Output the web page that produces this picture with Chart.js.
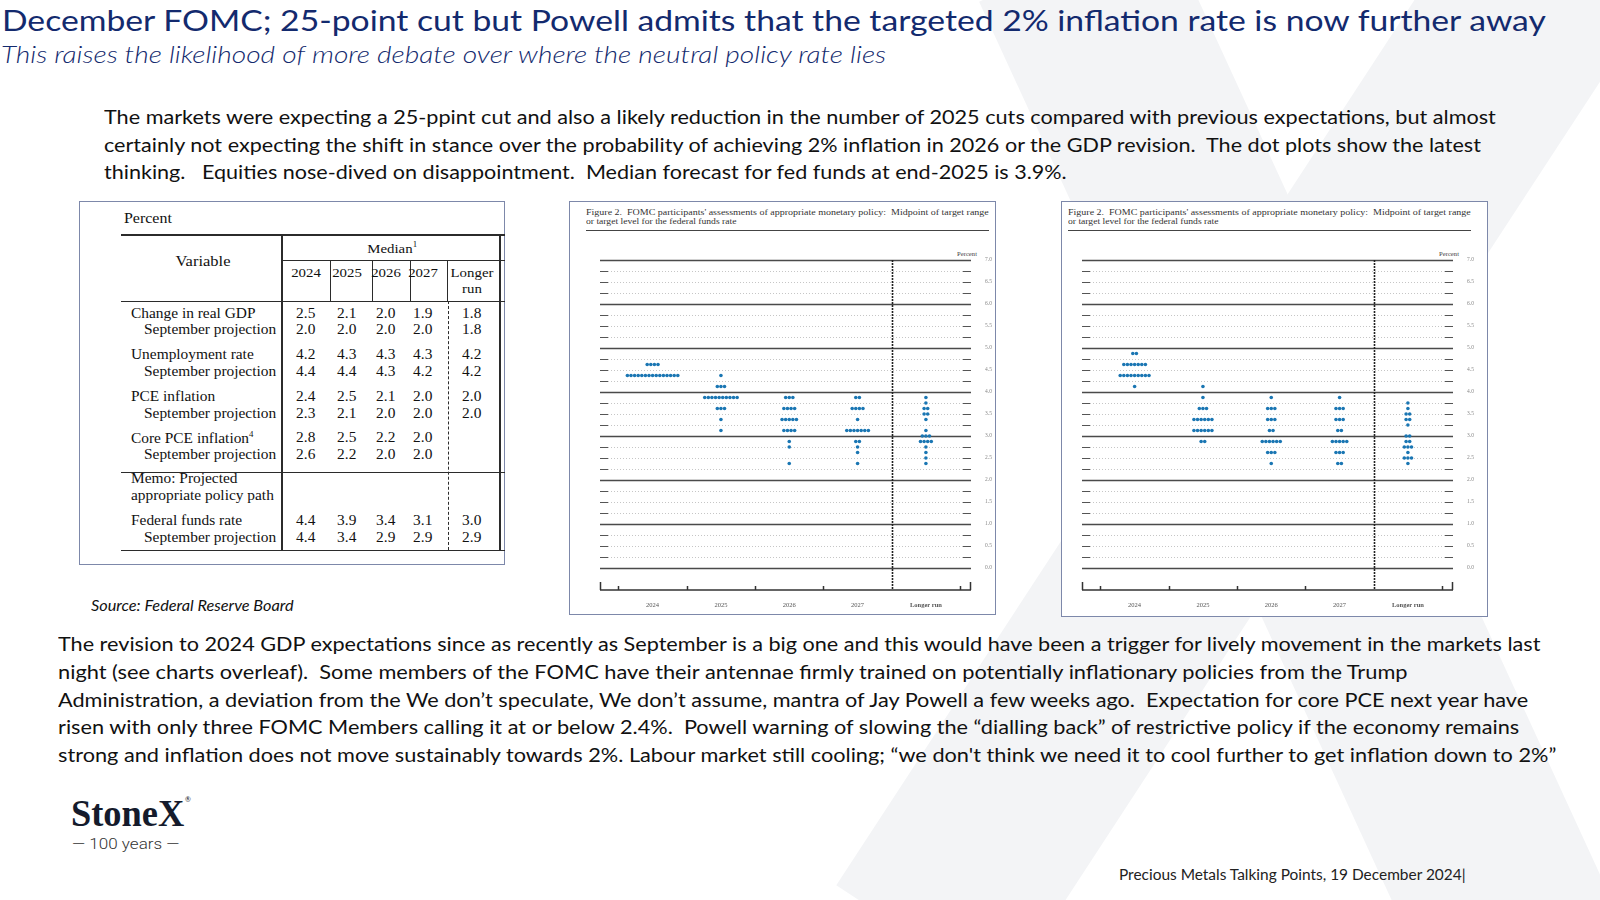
<!DOCTYPE html>
<html>
<head>
<meta charset="utf-8">
<script src="https://cdn.jsdelivr.net/npm/chart.js@4.4.1/dist/chart.umd.min.js"></script>
<style>
html, body { margin: 0; padding: 0; background: #fff; }
#slide { position: relative; width: 1600px; height: 900px; overflow: hidden; background: #fff; font-family: Lato, 'Open Sans', sans-serif; }
.t { position: absolute; white-space: nowrap; line-height: 1; transform-origin: 0 50%; }
.box { position: absolute; border: 1.5px solid #7d88aa; box-sizing: border-box; background: #fff; }
.ln { position: absolute; background: #2b2b2b; }
canvas { position: absolute; }
#wm { position: absolute; left: 0; top: 0; }
</style>
</head>
<body>
<div id="slide">
  <svg id="wm" width="1600" height="900">
    <line x1="1070" y1="-40" x2="1520" y2="940" stroke="#f3f4f6" stroke-width="200"/>
    <line x1="1560" y1="-40" x2="920" y2="940" stroke="#f3f4f6" stroke-width="200"/>
  </svg>
</div>

<script>
// dot plot columns
const years = ['2024', '2025', '2026', '2027', 'Longer run'];

// December 2024 projections: [midpoint, participants]
const dec2024 = [[4.625, 4], [4.375, 15]];
const dec2025 = [[4.375, 1], [4.125, 3], [3.875, 10], [3.625, 3], [3.375, 1], [3.125, 1]];
const dec2026 = [[3.875, 3], [3.625, 4], [3.375, 5], [3.125, 4], [2.875, 1], [2.75, 1], [2.375, 1]];
const dec2027 = [[3.875, 2], [3.625, 4], [3.375, 1], [3.125, 7], [2.875, 2], [2.75, 1], [2.625, 1], [2.375, 1]];
const decLonger = [[3.875, 1], [3.75, 1], [3.625, 2], [3.5, 2], [3.375, 1], [3.125, 1], [3.0, 3], [2.875, 4], [2.75, 1], [2.625, 1], [2.5, 1], [2.375, 1]];

// September 2024 projections
const sep2024 = [[4.875, 2], [4.625, 7], [4.375, 9], [4.125, 1]];
const sep2025 = [[4.125, 1], [3.875, 1], [3.625, 3], [3.375, 6], [3.125, 6], [2.875, 2]];
const sep2026 = [[3.875, 1], [3.625, 3], [3.375, 3], [3.125, 2], [2.875, 6], [2.625, 3], [2.375, 1]];
const sep2027 = [[3.875, 1], [3.625, 3], [3.375, 3], [3.125, 2], [2.875, 5], [2.625, 3], [2.375, 2]];
const sepLonger = [[3.75, 1], [3.625, 1], [3.5, 2], [3.375, 2], [3.25, 1], [3.0, 2], [2.875, 2], [2.75, 3], [2.625, 1], [2.5, 3], [2.375, 1]];

// summary table (medians)
const gdp = [2.5, 2.1, 2.0, 1.9, 1.8];
const gdpSep = [2.0, 2.0, 2.0, 2.0, 1.8];
const unemp = [4.2, 4.3, 4.3, 4.3, 4.2];
const unempSep = [4.4, 4.4, 4.3, 4.2, 4.2];
const pce = [2.4, 2.5, 2.1, 2.0, 2.0];
const pceSep = [2.3, 2.1, 2.0, 2.0, 2.0];
const corePce = [2.8, 2.5, 2.2, 2.0, null];
const corePceSep = [2.6, 2.2, 2.0, 2.0, null];
const ffr = [4.4, 3.9, 3.4, 3.1, 3.0];
const ffrSep = [4.4, 3.4, 2.9, 2.9, 2.9];

const slide = document.getElementById('slide');
const navy = '#132a6e';

function txt(s, x, y, o) {
  o = o || {};
  const d = document.createElement('div');
  d.className = 't';
  d.innerHTML = s;
  const fs = o.size || 16;
  d.style.fontSize = fs + 'px';
  d.style.left = x + 'px';
  d.style.top = (y - fs * 0.55) + 'px';
  if (o.font) d.style.fontFamily = o.font;
  if (o.color) d.style.color = o.color;
  if (o.italic) d.style.fontStyle = 'italic';
  if (o.weight) d.style.fontWeight = o.weight;
  slide.appendChild(d);
  let sx = o.sx || 1;
  if (o.w) sx = o.w / d.scrollWidth;
  let tx = 0;
  if (o.align === 'center') tx = -d.scrollWidth * sx / 2;
  if (o.align === 'right') tx = -d.scrollWidth * sx;
  d.style.transform = 'translateX(' + tx + 'px) scaleX(' + sx + ')';
  return d;
}

function line(x, y, w, h, color) {
  const d = document.createElement('div');
  d.className = 'ln';
  d.style.left = x + 'px'; d.style.top = y + 'px';
  d.style.width = w + 'px'; d.style.height = h + 'px';
  if (color) d.style.background = color;
  slide.appendChild(d);
  return d;
}

function box(x, y, w, h) {
  const d = document.createElement('div');
  d.className = 'box';
  d.style.left = x + 'px'; d.style.top = y + 'px';
  d.style.width = w + 'px'; d.style.height = h + 'px';
  slide.appendChild(d);
}

// headings
txt('December FOMC; 25-point cut but Powell admits that the targeted 2% inflation rate is now further away', 2, 21, { size: 29, color: navy, w: 1544 });
txt('This raises the likelihood of more debate over where the neutral policy rate lies', 1, 56, { size: 23, color: navy, italic: true, weight: 300, w: 885 });

const body1 = [
  ['The markets were expecting a 25-ppint cut and also a likely reduction in the number of 2025 cuts compared with previous expectations, but almost', 1392],
  ['certainly not expecting the shift in stance over the probability of achieving 2% inflation in 2026 or the GDP revision.&nbsp; The dot plots show the latest', 1377],
  ['thinking.&nbsp;&nbsp; Equities nose-dived on disappointment.&nbsp; Median forecast for fed funds at end-2025 is 3.9%.', 963]
];
body1.forEach((l, i) => txt(l[0], 104, 118 + i * 27.6, { size: 19.5, color: '#111', w: l[1] }));

const body2 = [
  ['The revision to 2024 GDP expectations since as recently as September is a big one and this would have been a trigger for lively movement in the markets last', 1483],
  ['night (see charts overleaf).&nbsp; Some members of the FOMC have their antennae firmly trained on potentially inflationary policies from the Trump', 1350],
  ['Administration, a deviation from the We don’t speculate, We don’t assume, mantra of Jay Powell a few weeks ago.&nbsp; Expectation for core PCE next year have', 1470],
  ['risen with only three FOMC Members calling it at or below 2.4%.&nbsp; Powell warning of slowing the “dialling back” of restrictive policy if the economy remains', 1461],
  ['strong and inflation does not move sustainably towards 2%. Labour market still cooling; “we don\'t think we need it to cool further to get inflation down to 2%”', 1498]
];
body2.forEach((l, i) => txt(l[0], 58, 645 + i * 27.7, { size: 19.5, color: '#111', w: l[1] }));

txt('Source: Federal Reserve Board', 91, 606, { size: 15, italic: true, color: '#111', w: 203 });
txt('Precious Metals Talking Points, 19 December 2024|', 1119, 876, { size: 14.5, color: '#222', w: 347 });

// logo
txt('StoneX', 71, 815, { size: 38, font: "'Liberation Serif', serif", weight: 'bold', color: '#151b2c', w: 113 });
txt('®', 185, 800, { size: 7, color: '#151b2c' });
txt('— 100 years —', 72, 845, { size: 15, font: 'Roboto, sans-serif', weight: 300, color: '#333', w: 108 });

// ---- table ----
const serif = "'Liberation Serif', 'DejaVu Serif', serif";
const tc = '#111';
const tsx = 1.1;
box(79, 201, 426, 364);
txt('Percent', 124, 219, { size: 14.5, font: serif, color: tc, sx: tsx });
line(121, 234, 384, 1.5);
line(281, 235, 1.5, 315);
line(499, 235, 1.5, 315);
line(282, 259.5, 223, 1.2);
[330, 372, 410, 447].forEach(x => line(x, 260, 1.2, 41));
line(121, 300.5, 384, 1.5);
line(121, 471.5, 384, 1.5);
line(121, 549.5, 384, 1.5);
const dash = line(447.5, 301, 0, 249, 'transparent');
dash.style.borderLeft = '1.6px dashed #2b2b2b';

txt('Variable', 203, 262, { size: 15, font: serif, color: tc, align: 'center', sx: tsx });
txt('Median<sup style="font-size:8px">1</sup>', 392, 248, { size: 13.5, font: serif, color: tc, align: 'center', sx: tsx });
const colX = [306, 347, 386, 423, 472];
years.slice(0, 4).forEach((yr, i) => txt(yr, colX[i], 273, { size: 13.5, font: serif, color: tc, align: 'center', sx: tsx }));
txt('Longer', colX[4], 273, { size: 13.5, font: serif, color: tc, align: 'center', sx: tsx });
txt('run', colX[4], 289, { size: 13.5, font: serif, color: tc, align: 'center', sx: tsx });

const tableRows = [
  ['Change in real GDP', gdp, 315, false],
  ['September projection', gdpSep, 331, true],
  ['Unemployment rate', unemp, 356, false],
  ['September projection', unempSep, 373, true],
  ['PCE inflation', pce, 398, false],
  ['September projection', pceSep, 415, true],
  ['Core PCE inflation<sup style="font-size:8px">4</sup>', corePce, 439, false],
  ['September projection', corePceSep, 456, true],
  ['Federal funds rate', ffr, 522, false],
  ['September projection', ffrSep, 539, true]
];
tableRows.forEach(r => {
  txt(r[0], r[3] ? 144 : 131, r[2], { size: 14, font: serif, color: tc, sx: tsx });
  r[1].forEach((v, i) => { if (v !== null) txt(v.toFixed(1), colX[i], r[2], { size: 14, font: serif, color: tc, align: 'center', sx: tsx }); });
});
txt('Memo: Projected', 131, 480, { size: 14, font: serif, color: tc, sx: tsx });
txt('appropriate policy path', 131, 497, { size: 14, font: serif, color: tc, sx: tsx });

// ---- dot plots ----
const dotStep = 0.0527;

function dotData(columns) {
  const pts = [];
  columns.forEach((col, i) => {
    col.forEach(([rate, n]) => {
      for (let k = 0; k < n; k++) pts.push({ x: i + (k - (n - 1) / 2) * dotStep, y: rate });
    });
  });
  return pts;
}

const gridPlugin = {
  id: 'fedGrid',
  beforeDatasetsDraw(chart) {
    const { ctx, chartArea: a, scales: { x, y } } = chart;
    ctx.save();
    for (let v = 0; v <= 7; v += 0.25) {
      const py = Math.round(y.getPixelForValue(v)) + 0.5;
      if (v % 1 === 0) {
        ctx.strokeStyle = '#4a4a4a'; ctx.lineWidth = 1.3; ctx.setLineDash([]);
        ctx.beginPath(); ctx.moveTo(a.left, py); ctx.lineTo(a.right, py); ctx.stroke();
      } else {
        ctx.strokeStyle = '#b8b8b8'; ctx.lineWidth = 0.8; ctx.setLineDash([1, 2]);
        ctx.beginPath(); ctx.moveTo(a.left + 8, py); ctx.lineTo(a.right - 8, py); ctx.stroke();
        ctx.strokeStyle = '#555'; ctx.lineWidth = 1.2; ctx.setLineDash([]);
        ctx.beginPath(); ctx.moveTo(a.left, py); ctx.lineTo(a.left + 8, py);
        ctx.moveTo(a.right - 8, py); ctx.lineTo(a.right, py); ctx.stroke();
      }
    }
    // separator before the longer run column
    const sx = Math.round(x.getPixelForValue(3.5)) + 0.5;
    ctx.strokeStyle = '#222'; ctx.lineWidth = 1.6; ctx.setLineDash([2, 1]);
    ctx.beginPath(); ctx.moveTo(sx, y.getPixelForValue(7)); ctx.lineTo(sx, a.bottom); ctx.stroke();
    // bottom axis
    ctx.setLineDash([]); ctx.strokeStyle = '#333'; ctx.lineWidth = 1.5;
    const by = a.bottom;
    ctx.beginPath(); ctx.moveTo(a.left, by); ctx.lineTo(a.right, by);
    ctx.moveTo(a.left + 0.5, by); ctx.lineTo(a.left + 0.5, by - 8);
    ctx.moveTo(a.right - 0.5, by); ctx.lineTo(a.right - 0.5, by - 8);
    [-0.5, 0.5, 1.5, 2.5, 4.5].forEach(v => {
      const px = Math.round(x.getPixelForValue(v)) + 0.5;
      ctx.moveTo(px, by); ctx.lineTo(px, by - 4);
    });
    ctx.stroke();
    ctx.restore();
  }
};

function dotChart(left, cols) {
  const c = document.createElement('canvas');
  c.width = 420; c.height = 370;
  c.style.left = left + 'px'; c.style.top = '250px';
  slide.appendChild(c);
  return new Chart(c, {
    type: 'scatter',
    data: {
      datasets: [{
        data: dotData(cols),
        backgroundColor: '#1a76b3',
        pointRadius: 1.8,
        pointHoverRadius: 1.8,
        borderWidth: 0
      }]
    },
    options: {
      responsive: false,
      animation: false,
      events: [],
      layout: { padding: { left: 20, right: 4, top: 10, bottom: 4 } },
      plugins: { legend: { display: false }, tooltip: { enabled: false } },
      scales: {
        x: {
          type: 'linear', min: -0.77, max: 4.66,
          grid: { display: false, drawTicks: false },
          border: { display: false },
          afterBuildTicks: s => { s.ticks = years.map((_, i) => ({ value: i })); },
          afterFit: s => { s.height = 26; s.paddingLeft = 0; s.paddingRight = 0; },
          ticks: {
            autoSkip: false, maxRotation: 0, padding: 11, color: '#555',
            font: ctx => ({ family: serif, size: 6.5, weight: ctx.index === 4 ? 'bold' : 'normal' }),
            callback: v => years[v]
          }
        },
        y: {
          position: 'right', min: -0.5, max: 7,
          grid: { display: false, drawTicks: false },
          border: { display: false },
          afterFit: s => { s.width = 25; s.paddingTop = 0; s.paddingBottom = 0; },
          ticks: {
            stepSize: 0.5, padding: 14, color: '#888',
            font: { family: serif, size: 5.5 },
            callback: v => v < 0 ? '' : v.toFixed(1)
          }
        }
      }
    },
    plugins: [gridPlugin]
  });
}

function figure(bx, by, bw, bh, capX, capW, plotLeft, cols) {
  box(bx, by, bw, bh);
  txt('Figure 2.&nbsp; FOMC participants\' assessments of appropriate monetary policy:&nbsp; Midpoint of target range', capX, 213, { size: 8, font: serif, color: '#333', w: capW });
  txt('or target level for the federal funds rate', capX, 222.5, { size: 8, font: serif, color: '#333', w: 150 });
  line(capX, 229.5, capW, 1.2, '#444');
  txt('Percent', plotLeft + 357, 254, { size: 6, font: serif, color: '#444', w: 20 });
  dotChart(plotLeft - 20, cols);
}

figure(569, 201, 427, 414, 586, 403, 600, [dec2024, dec2025, dec2026, dec2027, decLonger]);
figure(1061, 201, 427, 416, 1068, 403, 1082, [sep2024, sep2025, sep2026, sep2027, sepLonger]);
</script>
</body>
</html>
